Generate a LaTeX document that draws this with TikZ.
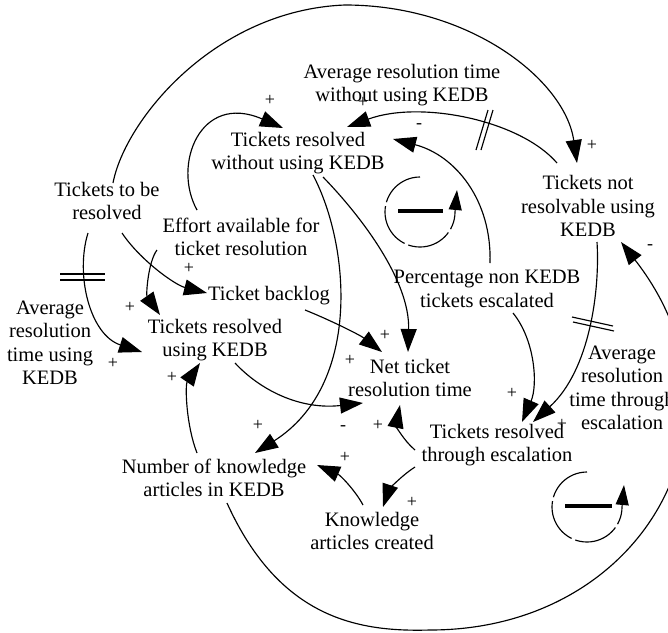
\documentclass[tikz,border=0pt]{standalone}
\usepackage{fontspec}
\setmainfont{Liberation Serif}
\usetikzlibrary{arrows.meta}

\begin{document}
\begin{tikzpicture}[x=1pt,y=-1pt,
  var/.style={align=center, inner sep=0pt, font=\fontsize{20.5}{23.5}\selectfont},
  link/.style={line width=1.15pt, -{Triangle[length=23pt,width=16pt]}},
  pol/.style={inner sep=0pt, font=\fontsize{18}{18}\selectfont},
  delaymark/.style={line width=1.15pt},
  loopbar/.style={line width=3.5pt},
  looparc/.style={line width=1.15pt, dash pattern=on 45pt off 4pt,
                  -{Triangle[length=20pt,width=13pt]}}
]
\useasboundingbox (0,0) rectangle (668,632);

% variables
\node[var] (tbr)     at (107,201) {Tickets to be\\resolved};
\node[var] (eff)     at (241,237) {Effort available for\\ticket resolution};
\node[var] (backlog) at (269,296) {Ticket backlog};
\node[var] (trk)     at (215,340) {Tickets resolved\\using KEDB};
\node[var] (avgk)    at (50,343)  {Average\\resolution\\time using\\KEDB};
\node[var] (net)     at (410,378) {Net ticket\\resolution time};
\node[var] (trw)     at (298,153) {Tickets resolved\\without using KEDB};
\node[var] (avgw)    at (402,85)  {Average resolution time\\without using KEDB};
\node[var] (tnr)     at (588,206) {Tickets not\\resolvable using\\KEDB};
\node[var] (pct)     at (487,289) {Percentage non KEDB\\tickets escalated};
\node[var] (avge)    at (622,388) {Average\\resolution\\time through\\escalation};
\node[var] (tre)     at (497,445) {Tickets resolved\\through escalation};
\node[var] (nka)     at (214,478) {Number of knowledge\\articles in KEDB};
\node[var] (kac)     at (372,531) {Knowledge\\articles created};

% causal links
\draw[link] ([shift={(6,-18)}]tbr.center) .. controls (125,120) and (215,10) .. (345,5)
            .. controls (470,5) and (565,80) .. ([shift={(-11,-43)}]tnr.center);
\draw[link] ([shift={(-31,-43)}]tnr.center) .. controls (520,120) and (420,100) .. ([shift={(49,-26)}]trw.center);
\draw[link] ([shift={(3,-26)}]pct.center) .. controls (492,200) and (455,155) .. ([shift={(95,-14)}]trw.center);
\draw[link] ([shift={(26,24)}]pct.center) .. controls (535,340) and (538,385) .. ([shift={(25,-23)}]tre.center);
\draw[link] ([shift={(9,36)}]tnr.center) .. controls (600,290) and (590,370) .. ([shift={(36,-23)}]tre.center);
\draw[link] ([shift={(13,25)}]nka.center) .. controls (280,620) and (360,632) .. (430,630)
            .. controls (645,630) and (760,420) .. ([shift={(33,36)}]tnr.center);
\draw[link] ([shift={(-82,22)}]tre.center) .. controls (398,478) and (388,492) .. ([shift={(11,-24)}]kac.center);
\draw[link] ([shift={(-82,5)}]tre.center) .. controls (403,440) and (396,425) .. ([shift={(-10,27)}]net.center);
\draw[link] ([shift={(-9,-26)}]kac.center) .. controls (355,490) and (340,475) .. ([shift={(103,-13)}]nka.center);
\draw[link] ([shift={(-17,-25)}]nka.center) .. controls (186,425) and (185,385) .. ([shift={(-15,23)}]trk.center);
\draw[link] ([shift={(20,23)}]trk.center) .. controls (260,390) and (300,410) .. ([shift={(-47,25)}]net.center);
\draw[link] ([shift={(36,14)}]backlog.center) .. controls (330,320) and (360,335) .. ([shift={(-28,-26)}]net.center);
\draw[link] ([shift={(25,24)}]trw.center) .. controls (360,215) and (410,280) .. ([shift={(-2,-26)}]net.center);
\draw[link] ([shift={(15,22)}]trw.center) .. controls (350,245) and (362,385) .. ([shift={(41,-25)}]nka.center);
\draw[link] ([shift={(-44,-27)}]eff.center) .. controls (172,165) and (200,92) .. ([shift={(-15,-25)}]trw.center);
\draw[link] ([shift={(-84,13)}]eff.center) .. controls (148,262) and (146,295) .. ([shift={(-55,-25)}]trk.center);
\draw[link] ([shift={(15,32)}]tbr.center) .. controls (140,260) and (175,285) .. ([shift={(-62,-3)}]backlog.center);
\draw[link] ([shift={(-19,32)}]tbr.center) .. controls (75,275) and (90,335) .. ([shift={(-73,12)}]trk.center);

% delay marks
\draw[delaymark] (488,110) -- (476,150) (493,110) -- (481,150);
\draw[delaymark] (572,317) -- (613,326) (573,322) -- (614,331);
\draw[delaymark] (60,274) -- (105,274) (60,280) -- (105,280);

% polarities
\node[pol] (p1)  at (592,145) {+};
\node[pol] (p2)  at (363,102) {+};
\node[pol] (p3)  at (419,126) {-};
\node[pol] (p4)  at (512,393) {+};
\node[pol] (p5)  at (562,424) {+};
\node[pol] (p6)  at (650,247) {-};
\node[pol] (p7)  at (412,502) {+};
\node[pol] (p8)  at (378,425) {+};
\node[pol] (p9)  at (345,457) {+};
\node[pol] (p10) at (172,377) {+};
\node[pol] (p11) at (343,428) {-};
\node[pol] (p12) at (350,360) {+};
\node[pol] (p13) at (385,335) {+};
\node[pol] (p14) at (258,425) {+};
\node[pol] (p15) at (270,100) {+};
\node[pol] (p16) at (130,307) {+};
\node[pol] (p17) at (189,268) {+};
\node[pol] (p18) at (113,363) {+};

% balancing loop markers
\draw[looparc] (420,177) arc[start angle=90, end angle=360, radius=35pt] -- ++(2,-22);
\draw[loopbar] (398,211) -- (443,211);
\draw[looparc] (587,472) arc[start angle=90, end angle=360, radius=35pt] -- ++(2,-22);
\draw[loopbar] (565,506) -- (612,506);
\end{tikzpicture}
\end{document}
